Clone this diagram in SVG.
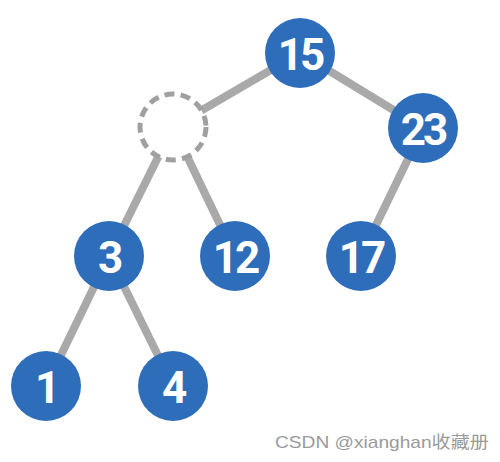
<svg xmlns="http://www.w3.org/2000/svg" width="500" height="462" viewBox="0 0 500 462">
<style>
.edge{stroke:#A9A9A9;stroke-width:8;fill:none}
.node circle{fill:#2E6DBA}
.node text{fill:#fff;font-family:Roboto,"Liberation Sans",sans-serif;font-weight:bold;font-size:44px;text-anchor:middle;letter-spacing:-3px}
.hole{fill:#fff;stroke:#A0A0A0;stroke-width:5;stroke-dasharray:10 6.3}
.wm{fill:#9a9a9a;font-family:"Liberation Sans","Noto Sans CJK SC",sans-serif;font-size:17px}
</style>
<rect width="500" height="462" fill="#fff"/>
<g id="edges">
<line class="edge" x1="300" y1="53" x2="173" y2="127"/>
<line class="edge" x1="300" y1="53" x2="423" y2="128"/>
<line class="edge" x1="173" y1="127" x2="109" y2="256"/>
<line class="edge" x1="173" y1="127" x2="235" y2="256"/>
<line class="edge" x1="423" y1="128" x2="361" y2="256"/>
<line class="edge" x1="109" y1="256" x2="46" y2="386"/>
<line class="edge" x1="109" y1="256" x2="173" y2="386"/>
</g>
<g id="n-empty"><circle class="hole" cx="173" cy="127" r="33"/></g>
<g id="n15" class="node"><circle cx="300" cy="53" r="35"/><text x="300" y="70">15</text></g>
<g id="n23" class="node"><circle cx="423" cy="128" r="35"/><text x="423" y="145">23</text></g>
<g id="n3" class="node"><circle cx="109" cy="256" r="35"/><text x="109" y="273">3</text></g>
<g id="n12" class="node"><circle cx="235" cy="256" r="35"/><text x="235" y="273">12</text></g>
<g id="n17" class="node"><circle cx="361" cy="256" r="35"/><text x="361" y="273">17</text></g>
<g id="n1" class="node"><circle cx="46" cy="386" r="35"/><text x="46" y="403">1</text></g>
<g id="n4" class="node"><circle cx="173" cy="386" r="35"/><text x="173" y="403">4</text></g>
<text class="wm" x="275" y="448" textLength="214" lengthAdjust="spacingAndGlyphs">CSDN @xianghan收藏册</text>
</svg>
